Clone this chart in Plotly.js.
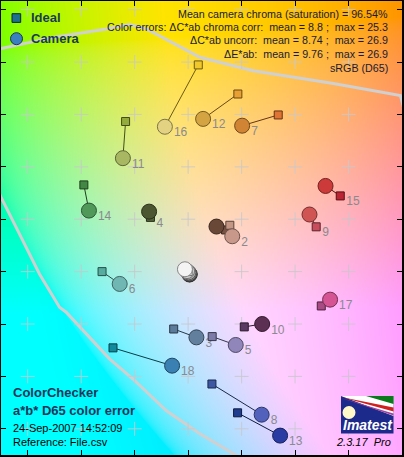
<!DOCTYPE html>
<html><head><meta charset="utf-8">
<script src="https://cdn.plot.ly/plotly-3.0.1.min.js"></script>
<style>html,body{margin:0;padding:0;background:#fff;}#chart{width:404px;height:457px;}</style>
</head><body><div id="chart"></div>
<script>
// ---------------- DATA ----------------
const patchNum = [1,2,3,4,5,6,7,8,9,10,11,12,13,14,15,16,17,18,19,20,21,22,23,24];
const idealA = [14.0, 15.6, -5.4, -14.1, 9.0, -32.2, 33.7, 8.9, 47.9, 21.0, -23.4, 18.6, 18.5, -39.0, 56.9, 3.8, 49.8, -28.1, 0.0, 0.0, 0.0, 0.0, 0.0, 0.0];
const idealB = [15.9, 17.7, -21.9, 20.7, -24.8, 0.0, 59.8, -42.9, 17.1, -21.1, 57.3, 67.8, -53.9, 33.1, 28.9, 78.9, -13.1, -29.1, 0.0, 0.0, 0.0, 0.0, 0.0, 0.0];
const camA = [10.6, 16.5, 3.1, -14.6, 17.8, -25.6, 20.2, 27.5, 45.4, 27.7, -24.4, 5.6, 34.4, -37.1, 51.4, -8.7, 53.1, -6.0, -1.2, -0.4, 0.1, 0.4, 0.6, 0.5];
const camB = [17.2, 13.5, -25.1, 22.9, -28.0, -4.7, 55.7, -54.6, 21.8, -20.0, 43.3, 58.3, -62.6, 23.3, 32.7, 55.3, -10.7, -35.9, 0.9, 0.2, -0.3, -0.7, -1.0, -1.1];
const idealColor = ['#7a5242','#c49684','#5c7a9a','#556638','#7c7aa6','#56ac9e','#e07434','#3c58a2','#c84c5c','#5a3a62','#94aa3c','#e8a032','#1f3c8e','#428844','#bc2434','#f0c82c','#a84a84','#108a9c','#f3f3f2','#c8c8c8','#a0a0a0','#7a7a79','#555555','#343434'];
const camColor   = ['#6a4838','#c8988a','#62809e','#4c5630','#9086ba','#70b6b2','#d08434','#5262bc','#d05454','#5c3052','#a8b862','#d4a442','#2a3ca4','#50985a','#cc3a3a','#e2d282','#d45494','#3a80b2','#f4f4f4','#cfcfcf','#a8a8a8','#808080','#5a5a5a','#363636'];
const labelPatches = [1,2,3,4,5,6,7,8,9,10,11,12,13,14,15,16,17,18];
const labelAt = ['camera','camera','camera','ideal','camera','camera','camera','camera','ideal','camera','camera','camera','camera','camera','ideal','camera','camera','camera'];

// sRGB gamut boundary (a*, b*)
const gamutTopA = [-76, -69.9, -50, -30.6, -21.9, -15.6, 4.4, 24.3, 54.3, 79.4, 84];
const gamutTopB = [84, 85.2, 89.5, 92.6, 94.3, 92.6, 81.8, 76.7, 71.8, 67.2, 50];
const gamutBotA = [-72, -70.0, -63.1, -55.6, -48.1, -45.6, -29.4, -20.6, -8.1, 4.4, 18.1, 21];
const gamutBotB = [33, 28.4, 14.4, -0.9, -13.6, -15.5, -33.3, -41.0, -53.1, -61.9, -70.2, -76];

const gridA = [-60,-40,-20,0,20,40,60];
const gridB = [100,80,60,40,20,0,-20,-40,-60];
const xTicks = [-60,-40,-20,0,20,40,60,80];
const yTicks = [-60,-40,-20,0,20,40,60,80,100];

const infoLines = [
  'Mean camera chroma (saturation) = 96.54%',
  'Color errors: \u0394C*ab chroma corr:  mean = 8.8 ;  max = 25.3',
  '\u0394C*ab uncorr:  mean = 8.74 ;  max = 26.9',
  '\u0394E*ab:  mean = 9.76 ;  max = 26.9',
  'sRGB (D65)'
];
const titleLines = ['ColorChecker','a*b* D65 color error'];
const infoBottom = ['24-Sep-2007 14:52:09','Reference: File.csv'];
const legendLabels = ['Ideal','Camera'];
const versionText = '2.3.17  Pro';
const logoText = 'Imatest';

// ---------------- LAYOUT HELPERS ----------------
const W=404, H=457, M={l:1,r:2,t:1,b:2};
const xRange=[-70,80], yRange=[-70,103.3];
const pw=W-M.l-M.r, ph=H-M.t-M.b;
const px=x=>(x-M.l)/pw, py=y=>1-(y-M.t)/ph;
const ux=(xRange[1]-xRange[0])/pw, uy=(yRange[1]-yRange[0])/ph;
const FONT='Liberation Sans, Arial, sans-serif';

function darken(hex,f){
  const n=parseInt(hex.slice(1),16);
  const r=Math.round(((n>>16)&255)*f), g=Math.round(((n>>8)&255)*f), b=Math.round((n&255)*f);
  return 'rgb('+r+','+g+','+b+')';
}

// background: a*b* plane at L*=90 (decoration)
function labToRgb(L,a,b){
  const fy=(L+16)/116, fx=fy+a/500, fz=fy-b/200;
  const d=6/29, finv=t=>t>d?t*t*t:3*d*d*(t-4/29);
  const X=0.95047*finv(fx), Y=finv(fy), Z=1.08883*finv(fz);
  const r=3.2406*X-1.5372*Y-0.4986*Z, g=-0.9689*X+1.8758*Y+0.0415*Z, bb=0.0557*X-0.2040*Y+1.0570*Z;
  const gam=c=>{c=Math.min(1,Math.max(0,c));return c<=0.0031308?12.92*c:1.055*Math.pow(c,1/2.4)-0.055;};
  return [gam(r)*255,gam(g)*255,gam(bb)*255];
}
const cv=document.createElement('canvas'); cv.width=pw; cv.height=ph;
const ctx=cv.getContext('2d'); const img=ctx.createImageData(pw,ph);
for(let j=0;j<ph;j++){ const b=yRange[1]-(j+0.5)*uy;
  for(let i=0;i<pw;i++){ const a=xRange[0]+(i+0.5)*ux; const c=labToRgb(90,a,b); const k=(j*pw+i)*4;
    img.data[k]=c[0]; img.data[k+1]=c[1]; img.data[k+2]=c[2]; img.data[k+3]=255; } }
ctx.putImageData(img,0,0);
const bgURL=cv.toDataURL();

// ---------------- TRACES ----------------
const traces=[];
traces.push({x:gamutTopA,y:gamutTopB,mode:'lines',line:{color:'#d0d0d0',width:3},hoverinfo:'skip',showlegend:false});
traces.push({x:gamutBotA,y:gamutBotB,mode:'lines',line:{color:'#d0d0d0',width:3},hoverinfo:'skip',showlegend:false});
const gx=[],gy=[]; gridA.forEach(a=>gridB.forEach(b=>{gx.push(a);gy.push(b);}));
traces.push({x:gx,y:gy,mode:'markers',marker:{symbol:'cross-thin',size:10,opacity:1,line:{color:'rgba(200,200,205,0.85)',width:1}},hoverinfo:'skip',showlegend:false});
// labels (below markers)
const lx=[],ly=[],lt=[];
labelPatches.forEach((p,k)=>{const i=patchNum.indexOf(p);
  const a=labelAt[k]==='ideal'?idealA[i]:camA[i], b=labelAt[k]==='ideal'?idealB[i]:camB[i];
  const off=labelAt[k]==='ideal'?6:9;
  lx.push(a+off*ux); ly.push(b-6.5*uy); lt.push(String(p));});
traces.push({x:lx,y:ly,text:lt,mode:'text',textposition:'middle right',textfont:{family:FONT,size:12,color:'#8a8a8e'},hoverinfo:'skip',showlegend:false});
// neutrals drawn darkest first so white is on top
const order=[]; for(let i=0;i<18;i++) order.push(i); for(let i=23;i>=18;i--) order.push(i);
order.forEach(i=>{
  traces.push({x:[idealA[i],camA[i]],y:[idealB[i],camB[i]],mode:'lines+markers',
    line:{color:darken(idealColor[i],0.45),width:1},
    marker:{symbol:['square','circle'],size:[8,15],opacity:1,color:[idealColor[i],camColor[i]],
      line:{color:[darken(idealColor[i],0.45),darken(camColor[i],0.55)],width:1}},
    name:'Patch '+patchNum[i],hoverinfo:'x+y+name',showlegend:false});
});

// ---------------- ANNOTATIONS / SHAPES ----------------
const ann=[];
const infoY=[13.5,27,40.5,54,67.8];
infoLines.forEach((t,k)=>ann.push({text:t,xref:'paper',yref:'paper',x:px(389.5),y:py(infoY[k]),xanchor:'right',yanchor:'middle',showarrow:false,font:{family:FONT,size:10.7,color:'#1a1a30'}}));
const legY=[18,38.7];
legendLabels.forEach((t,k)=>ann.push({text:'<b>'+t+'</b>',xref:'paper',yref:'paper',x:px(29),y:py(legY[k]),xanchor:'left',yanchor:'middle',showarrow:false,font:{family:FONT,size:13,color:'#1a3a56'}}));
const tY=[392.7,410.7];
titleLines.forEach((t,k)=>ann.push({text:'<b>'+t+'</b>',xref:'paper',yref:'paper',x:px(11),y:py(tY[k]),xanchor:'left',yanchor:'middle',showarrow:false,font:{family:FONT,size:13,color:'#1a3658'}}));
const bY=[427.7,442.3];
infoBottom.forEach((t,k)=>ann.push({text:t,xref:'paper',yref:'paper',x:px(11),y:py(bY[k]),xanchor:'left',yanchor:'middle',showarrow:false,font:{family:FONT,size:11,color:'#000'}}));
ann.push({text:'<b><i>'+logoText+'</i></b>',xref:'paper',yref:'paper',x:px(368),y:py(424.5),xanchor:'center',yanchor:'middle',showarrow:false,font:{family:FONT,size:14,color:'#fff'}});
ann.push({text:'<i>'+versionText+'</i>',xref:'paper',yref:'paper',x:px(392.5),y:py(442.3),xanchor:'right',yanchor:'middle',showarrow:false,font:{family:FONT,size:11,color:'#000'}});

function poly(pts){return 'M'+pts.map(p=>px(p[0])+','+py(p[1])).join('L')+'Z';}
const shapes=[
  {type:'line',xref:'x',yref:'paper',x0:0,x1:0,y0:0,y1:1,line:{color:'#8a8aa0',width:1,dash:'1px,3px'},layer:'below'},
  {type:'line',xref:'paper',yref:'y',x0:0,x1:1,y0:0,y1:0,line:{color:'#8a8aa0',width:1,dash:'1px,3px'},layer:'below'},
  // legend glyphs
  {type:'rect',xref:'paper',yref:'paper',x0:px(12),x1:px(20.7),y0:py(13.7),y1:py(22.4),fillcolor:'#1f6f8f',line:{color:'#0a2838',width:1}},
  {type:'circle',xref:'paper',yref:'paper',x0:px(10.5),x1:px(22.5),y0:py(32.7),y1:py(44.7),fillcolor:'#3a7fc0',line:{color:'#1a3658',width:1}},
  // logo
  {type:'rect',xref:'paper',yref:'paper',x0:px(341),x1:px(393.5),y0:py(396),y1:py(433.5),fillcolor:'#1c2a8c',line:{width:0}},
  {type:'path',xref:'paper',yref:'paper',path:poly([[341,396],[393.5,396],[393.5,416]]),fillcolor:'#ffffff',line:{width:0}},
  {type:'path',xref:'paper',yref:'paper',path:poly([[366,396],[393.5,396],[393.5,404]]),fillcolor:'#0a7a1a',line:{width:0}},
  {type:'path',xref:'paper',yref:'paper',path:poly([[341,397],[393.5,407.5],[393.5,411.5]]),fillcolor:'#d02020',line:{width:0}},
  {type:'path',xref:'paper',yref:'paper',path:poly([[341,398],[393.5,413.5],[393.5,415.5]]),fillcolor:'#a040a0',line:{width:0}},
  {type:'circle',xref:'paper',yref:'paper',x0:px(342.5),x1:px(355.5),y0:py(406),y1:py(419),fillcolor:'#fff8c8',line:{width:0}}
];

const axisCommon={showgrid:false,zeroline:false,showticklabels:false,ticks:'inside',ticklen:5,tickwidth:1,tickcolor:'#000',
  showline:true,linecolor:'#000',linewidth:2,mirror:'ticks',fixedrange:true,tickmode:'array'};
const layout={
  width:W,height:H,margin:{l:M.l,r:M.r,t:M.t,b:M.b,pad:0},
  paper_bgcolor:'#ffffff',plot_bgcolor:'rgba(0,0,0,0)',showlegend:false,
  xaxis:Object.assign({},axisCommon,{range:xRange,tickvals:xTicks}),
  yaxis:Object.assign({},axisCommon,{range:yRange,tickvals:yTicks}),
  images:[{source:bgURL,xref:'x',yref:'y',x:xRange[0],y:yRange[1],sizex:xRange[1]-xRange[0],sizey:yRange[1]-yRange[0],sizing:'stretch',xanchor:'left',yanchor:'top',layer:'below'}],
  annotations:ann,shapes:shapes,font:{family:FONT}
};
Plotly.newPlot('chart',traces,layout,{displayModeBar:false,staticPlot:true});
</script></body></html>
